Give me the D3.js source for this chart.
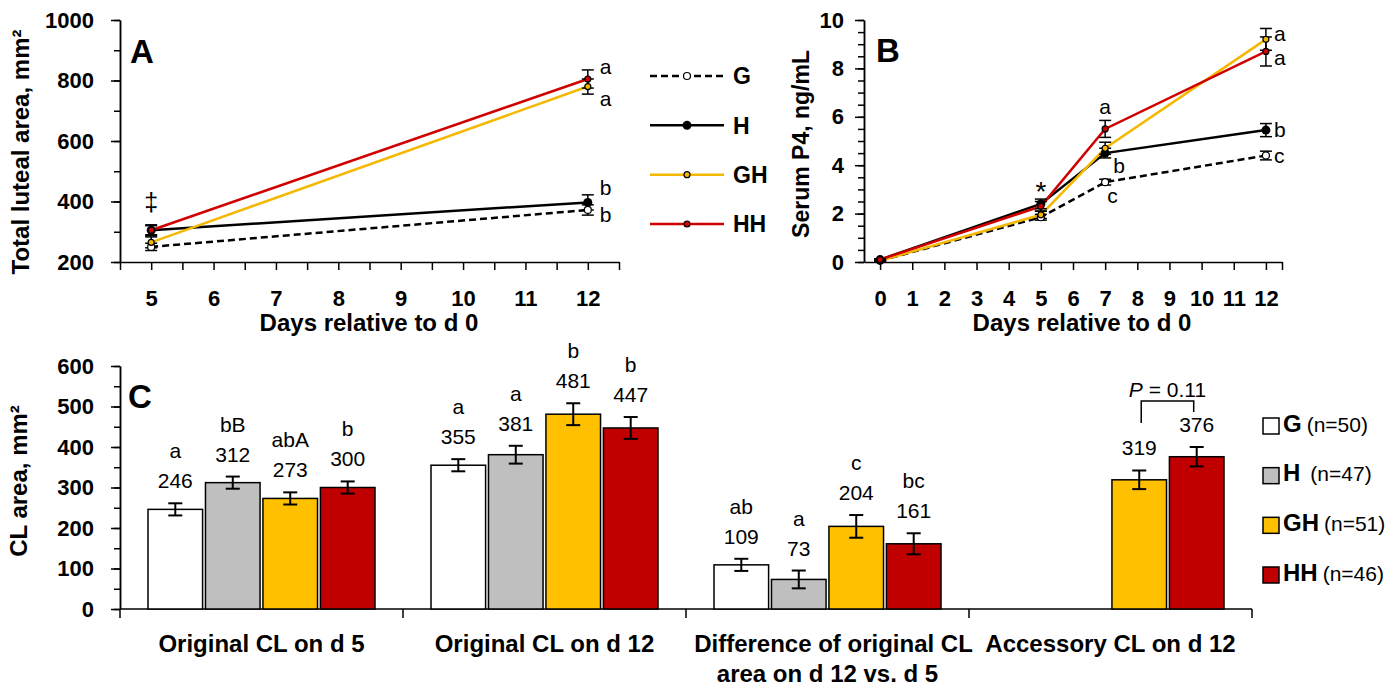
<!DOCTYPE html>
<html>
<head>
<meta charset="utf-8">
<script src="https://cdn.jsdelivr.net/npm/d3@7"></script>
<style>
  body { margin: 0; background: #fff; }
  svg { font-family: "Liberation Sans", Arial, sans-serif; }
  .axis path, .axis line { stroke: #000; stroke-width: 1.5; }
  .axis text { font-weight: bold; font-size: 22px; fill: #000; }
</style>
</head>
<body>
<div id="chart"></div>
<script>
// ---------- data ----------
const seriesNames = ["G", "H", "GH", "HH"];
const seriesN = ["(n=50)", "(n=47)", "(n=51)", "(n=46)"];

// panel A: total luteal area (mm2) on d 5 and d 12
const daysA = [5, 12];
const areaG = [250, 372];
const areaH = [305, 397];
const areaGH = [265, 780];
const areaHH = [305, 805];
const areaErrG = [12, 17];
const areaErrH = [18, 25];
const areaErrGH = [18, 25];
const areaErrHH = [15, 30];
const lettersA12 = ["b", "b", "a", "a"];

// panel B: serum P4 (ng/mL)
const daysB = [0, 5, 7, 12];
const p4G = [0.05, 1.85, 3.3, 4.4];
const p4H = [0.1, 2.4, 4.5, 5.45];
const p4GH = [0.05, 1.95, 4.7, 9.2];
const p4HH = [0.1, 2.3, 5.5, 8.7];
const p4ErrG = [0.03, 0.12, 0.12, 0.18];
const p4ErrH = [0.03, 0.2, 0.2, 0.27];
const p4ErrGH = [0.03, 0.15, 0.25, 0.45];
const p4ErrHH = [0.03, 0.2, 0.35, 0.6];
const lettersB7 = ["c", "b", "", "a"];
const lettersB12 = ["c", "b", "a", "a"];

// panel C: CL area (mm2)
const groupsC = ["Original CL on d 5", "Original CL on d 12",
                 "Difference of original CL\narea on d 12 vs. d 5", "Accessory CL on d 12"];
const clG = [246, 355, 109, null];
const clH = [312, 381, 73, null];
const clGH = [273, 481, 204, 319];
const clHH = [300, 447, 161, 376];
const clErrG = [15, 15, 15, null];
const clErrH = [15, 22, 22, null];
const clErrGH = [15, 27, 28, 23];
const clErrHH = [15, 27, 26, 24];
const clLettersG = ["a", "a", "ab", ""];
const clLettersH = ["bB", "a", "a", ""];
const clLettersGH = ["abA", "b", "c", ""];
const clLettersHH = ["b", "b", "bc", ""];
const pValueText = "0.11";

// ---------- styles ----------
const lineColor = {G: "#000", H: "#000", GH: "#F5B800", HH: "#D00000"};
const markFill = {G: "#fff", H: "#000", GH: "#F5B800", HH: "#D00000"};
const markR = {G: 3.5, H: 4.5, GH: 3, HH: 3};
const barFill = {G: "#fff", H: "#BFBFBF", GH: "#FFC000", HH: "#C00000"};

const svg = d3.select("#chart").append("svg")
    .attr("width", 1398).attr("height", 688);

function lineSeries(days, vals, errs) {
    return days.map((d, i) => ({day: d, v: vals[i], e: errs[i]}));
}

function drawLinePanel(g, x, y, data, capW) {
    const line = d3.line().x(d => x(d.day)).y(d => y(d.v));
    seriesNames.forEach(s => {
        g.append("path")
            .attr("d", line(data[s]))
            .attr("fill", "none")
            .attr("stroke", lineColor[s])
            .attr("stroke-width", 2.5)
            .attr("stroke-dasharray", s === "G" ? "7,4" : null);
    });
    seriesNames.forEach(s => {
        const eb = g.append("g").attr("stroke", "#000").attr("stroke-width", 1.5);
        data[s].forEach(d => {
            eb.append("line").attr("x1", x(d.day)).attr("x2", x(d.day))
                .attr("y1", y(d.v - d.e)).attr("y2", y(d.v + d.e));
            [d.v - d.e, d.v + d.e].forEach(v => {
                eb.append("line").attr("x1", x(d.day) - capW / 2).attr("x2", x(d.day) + capW / 2)
                    .attr("y1", y(v)).attr("y2", y(v));
            });
        });
    });
    seriesNames.forEach(s => {
        g.selectAll(null).data(data[s]).enter().append("circle")
            .attr("cx", d => x(d.day)).attr("cy", d => y(d.v))
            .attr("r", markR[s])
            .attr("fill", markFill[s])
            .attr("stroke", "#000").attr("stroke-width", s === "H" ? 0 : 1.2);
    });
}

function letter(g, xp, yp, txt, anchor) {
    g.append("text").attr("x", xp).attr("y", yp)
        .attr("dy", "0.35em")
        .attr("text-anchor", anchor || "start")
        .attr("font-size", 21)
        .text(txt);
}

// ---------- panel A ----------
const xA = d3.scaleLinear().domain([4.5, 12.5]).range([120, 619]);
const yA = d3.scaleLinear().domain([200, 1000]).range([262, 20]);
const gA = svg.append("g");

gA.append("g").attr("class", "axis").attr("transform", "translate(120,0)")
    .call(d3.axisLeft(yA).tickValues(d3.range(200, 1001, 100)).tickSize(6).tickSizeOuter(0).tickFormat(""));
gA.append("g").attr("class", "axis").attr("transform", "translate(120,0)")
    .call(d3.axisLeft(yA).tickValues(d3.range(200, 1001, 200)).tickSize(9).tickPadding(17)
        .tickSizeOuter(0).tickFormat(d3.format("d")));
gA.append("g").attr("class", "axis").attr("transform", "translate(0,262)")
    .call(d3.axisBottom(xA).tickValues(d3.range(4.5, 12.51, 0.5)).tickSize(8).tickSizeOuter(0)
        .tickFormat(d => Number.isInteger(d) ? d : "").tickPadding(20));

const dataA = {
    G: lineSeries(daysA, areaG, areaErrG),
    H: lineSeries(daysA, areaH, areaErrH),
    GH: lineSeries(daysA, areaGH, areaErrGH),
    HH: lineSeries(daysA, areaHH, areaErrHH)
};
drawLinePanel(gA, xA, yA, dataA, 12);

// letters at d 12: above (<0), beside (0) or below (>0) the point
const sideA = {G: 0.4, H: -1.2, GH: 1, HH: -1};
seriesNames.forEach((s, i) => {
    const p = dataA[s][1];
    letter(gA, xA(p.day) + 12, yA(p.v) + sideA[s] * 12, lettersA12[i]);
});
const topA5 = d3.max(seriesNames, s => dataA[s][0].v + dataA[s][0].e);
gA.append("text").attr("x", xA(5)).attr("y", yA(topA5) - 14)
    .attr("text-anchor", "middle").attr("font-size", 25).text("\u2021");

gA.append("text").attr("x", 130).attr("y", 63)
    .attr("font-size", 33).attr("font-weight", "bold").text("A");
gA.append("text").attr("transform", "translate(21,152) rotate(-90)")
    .attr("dy", "0.35em").attr("text-anchor", "middle")
    .attr("font-size", 24).attr("font-weight", "bold").text("Total luteal area, mm\u00b2");
gA.append("text").attr("x", 369).attr("y", 331)
    .attr("text-anchor", "middle").attr("font-size", 24).attr("font-weight", "bold")
    .text("Days relative to d 0");

// legend for A and B
const legY = d3.scalePoint().domain(seriesNames).range([76, 224]);
const gLeg = svg.append("g");
seriesNames.forEach(s => {
    const yy = legY(s);
    gLeg.append("line").attr("x1", 650).attr("x2", 724).attr("y1", yy).attr("y2", yy)
        .attr("stroke", lineColor[s]).attr("stroke-width", 2.5)
        .attr("stroke-dasharray", s === "G" ? "7,4" : null);
    gLeg.append("circle").attr("cx", 687).attr("cy", yy).attr("r", markR[s])
        .attr("fill", markFill[s]).attr("stroke", "#000").attr("stroke-width", s === "H" ? 0 : 1.2);
    gLeg.append("text").attr("x", 733).attr("y", yy).attr("dy", "0.36em")
        .attr("font-size", 23).attr("font-weight", "bold").text(s);
});

// ---------- panel B ----------
const xB = d3.scaleLinear().domain([-0.5, 12.5]).range([864, 1282]);
const yB = d3.scaleLinear().domain([0, 10]).range([262, 20]);
const gB = svg.append("g");

gB.append("g").attr("class", "axis").attr("transform", "translate(864,0)")
    .call(d3.axisLeft(yB).tickValues(d3.range(0, 10.01, 0.5)).tickSize(6).tickSizeOuter(0).tickFormat(""));
gB.append("g").attr("class", "axis").attr("transform", "translate(864,0)")
    .call(d3.axisLeft(yB).tickValues(d3.range(0, 10.01, 2)).tickSize(9).tickPadding(11).tickSizeOuter(0));
gB.append("g").attr("class", "axis").attr("transform", "translate(0,262)")
    .call(d3.axisBottom(xB).tickValues(d3.range(0, 12.51, 1).concat([12.5])).tickSize(8).tickSizeOuter(0)
        .tickFormat(d => Number.isInteger(d) ? d : "").tickPadding(20));

const dataB = {
    G: lineSeries(daysB, p4G, p4ErrG),
    H: lineSeries(daysB, p4H, p4ErrH),
    GH: lineSeries(daysB, p4GH, p4ErrGH),
    HH: lineSeries(daysB, p4HH, p4ErrHH)
};
drawLinePanel(gB, xB, yB, dataB, 12);

const sideB7 = {G: 1.2, H: 1.1, GH: 0, HH: -2};
const dxB7 = {G: 2, H: 8, GH: 0, HH: 0};
seriesNames.forEach((s, i) => {
    if (!lettersB7[i]) return;
    const p = dataB[s][2];
    letter(gB, xB(p.day) + dxB7[s], yB(p.v) + sideB7[s] * 11, lettersB7[i], s === "HH" ? "middle" : "start");
});
const sideB12 = {G: 0, H: 0, GH: -0.5, HH: 0.6};
seriesNames.forEach((s, i) => {
    const p = dataB[s][3];
    letter(gB, xB(p.day) + 8, yB(p.v) + sideB12[s] * 11, lettersB12[i]);
});
const topB5 = d3.max(seriesNames, s => dataB[s][1].v + dataB[s][1].e);
gB.append("text").attr("x", xB(5)).attr("y", yB(topB5) + 2)
    .attr("text-anchor", "middle").attr("font-size", 28).text("*");

gB.append("text").attr("x", 876).attr("y", 62)
    .attr("font-size", 33).attr("font-weight", "bold").text("B");
gB.append("text").attr("transform", "translate(801,144) rotate(-90)")
    .attr("dy", "0.35em").attr("text-anchor", "middle")
    .attr("font-size", 23).attr("font-weight", "bold").text("Serum P4, ng/mL");
gB.append("text").attr("x", 1082).attr("y", 331)
    .attr("text-anchor", "middle").attr("font-size", 24).attr("font-weight", "bold")
    .text("Days relative to d 0");

// ---------- panel C ----------
const x0 = d3.scaleBand().domain(groupsC).range([120, 1252]);
const x1 = d3.scaleBand().domain(seriesNames).range([28, 255]).paddingInner(0.05);
const yC = d3.scaleLinear().domain([0, 600]).range([609, 366]);
const gC = svg.append("g");

gC.append("g").attr("class", "axis").attr("transform", "translate(120,0)")
    .call(d3.axisLeft(yC).tickValues(d3.range(0, 601, 50)).tickSize(6).tickSizeOuter(0).tickFormat(""));
gC.append("g").attr("class", "axis").attr("transform", "translate(120,0)")
    .call(d3.axisLeft(yC).tickValues(d3.range(0, 601, 100)).tickSize(9).tickPadding(17).tickSizeOuter(0));

// category axis with ticks between groups
const xAxC = gC.append("g").attr("class", "axis");
xAxC.append("line").attr("x1", 120).attr("x2", 1252).attr("y1", 609).attr("y2", 609);
groupsC.forEach((g, i) => {
    xAxC.append("line").attr("x1", x0(g)).attr("x2", x0(g)).attr("y1", 609).attr("y2", 618);
    if (i === groupsC.length - 1) {
        xAxC.append("line").attr("x1", x0(g) + x0.bandwidth()).attr("x2", x0(g) + x0.bandwidth())
            .attr("y1", 609).attr("y2", 618);
    }
    const t = xAxC.append("text").attr("text-anchor", "middle")
        .style("font-size", "24px").attr("font-weight", "bold");
    g.split("\n").forEach((ln, k) => {
        t.append("tspan").attr("x", x0(g) + x0.bandwidth() / 2 + (k === 0 && i === 2 ? 6 : 0))
            .attr("y", 652 + k * 30).text(ln);
    });
});

const valsC = {G: clG, H: clH, GH: clGH, HH: clHH};
const errsC = {G: clErrG, H: clErrH, GH: clErrGH, HH: clErrHH};
const letsC = {G: clLettersG, H: clLettersH, GH: clLettersGH, HH: clLettersHH};

seriesNames.forEach(s => {
    const rows = groupsC.map((g, i) => ({g: g, v: valsC[s][i], e: errsC[s][i], l: letsC[s][i]}))
        .filter(d => d.v !== null);
    const sg = gC.append("g");
    sg.selectAll("rect").data(rows).enter().append("rect")
        .attr("x", d => x0(d.g) + x1(s))
        .attr("y", d => yC(d.v))
        .attr("width", x1.bandwidth())
        .attr("height", d => yC(0) - yC(d.v))
        .attr("fill", barFill[s])
        .attr("stroke", "#000").attr("stroke-width", 1.5);
    rows.forEach(d => {
        const cx = x0(d.g) + x1(s) + x1.bandwidth() / 2;
        const eg = sg.append("g").attr("stroke", "#000").attr("stroke-width", 2);
        eg.append("line").attr("x1", cx).attr("x2", cx).attr("y1", yC(d.v - d.e)).attr("y2", yC(d.v + d.e));
        [d.v - d.e, d.v + d.e].forEach(v => {
            eg.append("line").attr("x1", cx - 7).attr("x2", cx + 7).attr("y1", yC(v)).attr("y2", yC(v));
        });
        const base = yC(d.v + d.e) - 15;
        sg.append("text").attr("x", cx).attr("y", base).attr("text-anchor", "middle")
            .attr("font-size", 21).text(d.v);
        if (d.l) {
            sg.append("text").attr("x", cx).attr("y", base - 30).attr("text-anchor", "middle")
                .attr("font-size", 21).text(d.l);
        }
    });
});

// P value bracket over accessory CL bars
const accG = groupsC[3];
const bx1 = x0(accG) + x1("GH") + x1.bandwidth() / 2 + 2;
const bx2 = x0(accG) + x1("HH") + x1.bandwidth() / 2 - 3;
const bTop = yC(d3.max([clGH[3] + clErrGH[3], clHH[3] + clErrHH[3]])) - 46;
gC.append("path")
    .attr("d", `M${bx1},${bTop + 22}V${bTop}H${bx2}V${bTop + 11}`)
    .attr("fill", "none").attr("stroke", "#000").attr("stroke-width", 1.5);
const pt = gC.append("text").attr("x", (bx1 + bx2) / 2).attr("y", bTop - 4)
    .attr("text-anchor", "middle").attr("font-size", 21);
pt.append("tspan").attr("font-style", "italic").text("P");
pt.append("tspan").text(" = " + pValueText);

gC.append("text").attr("x", 128).attr("y", 408)
    .attr("font-size", 33).attr("font-weight", "bold").text("C");
gC.append("text").attr("transform", "translate(19,481) rotate(-90)")
    .attr("dy", "0.35em").attr("text-anchor", "middle")
    .attr("font-size", 24).attr("font-weight", "bold").text("CL area, mm\u00b2");

// legend C
const legC = d3.scalePoint().domain(seriesNames).range([426, 575]);
seriesNames.forEach((s, i) => {
    const yy = legC(s);
    gC.append("rect").attr("x", 1263).attr("y", yy - 8).attr("width", 16).attr("height", 16)
        .attr("fill", barFill[s]).attr("stroke", "#000").attr("stroke-width", 1.5);
    const t = gC.append("text").attr("x", 1283).attr("y", yy).attr("dy", "0.36em");
    t.append("tspan").attr("font-size", 24).attr("font-weight", "bold").text(s);
    t.append("tspan").attr("font-size", 21).attr("dx", s === "H" ? 10 : 5).text(seriesN[i]);
});
</script>
</body>
</html>
